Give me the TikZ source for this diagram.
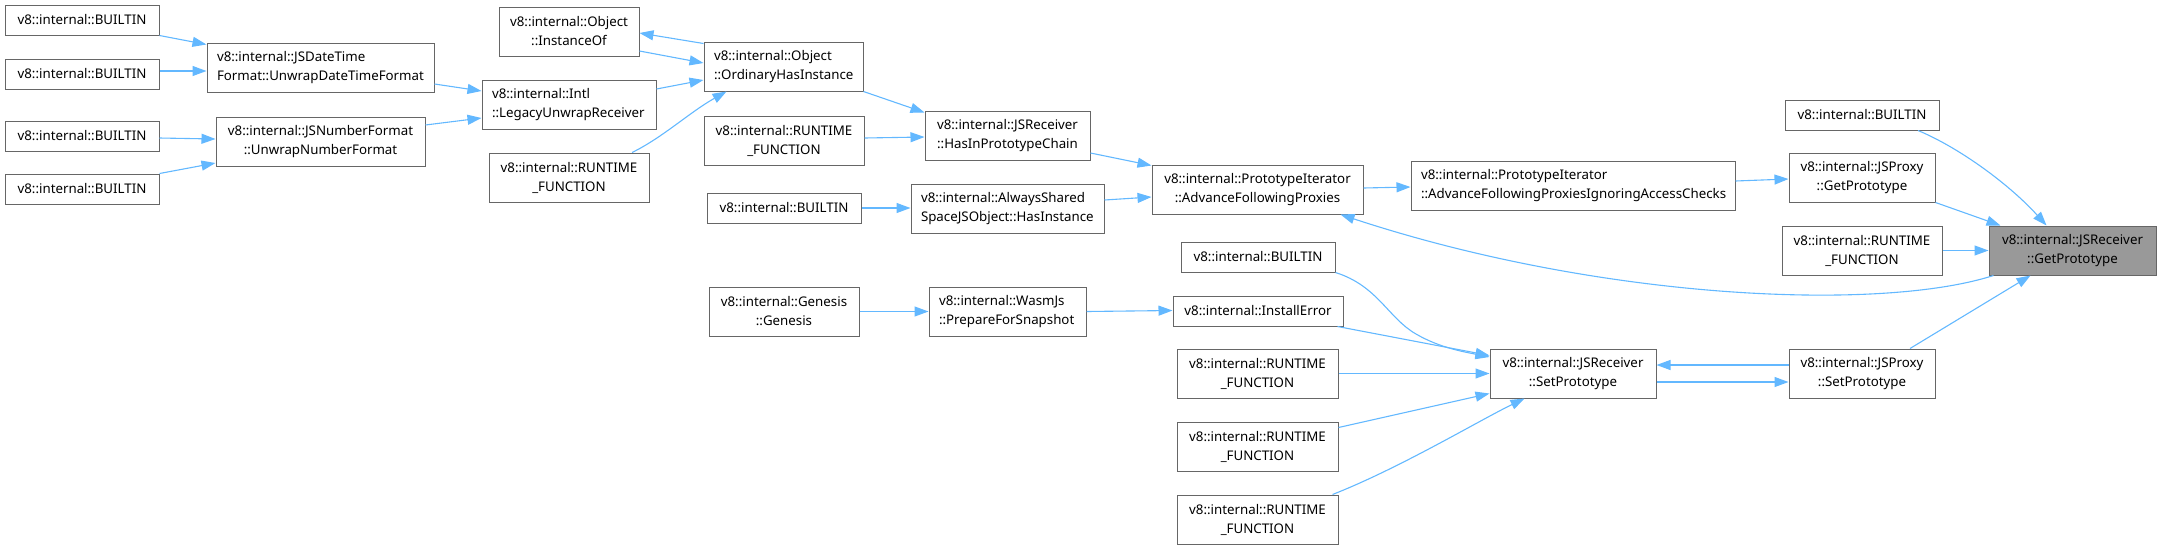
\documentclass[tikz,border=0pt]{standalone}
\usepackage{fontspec}
\newfontfamily\nfont{Noto Sans}
\usetikzlibrary{arrows.meta}
\definecolor{edgecol}{HTML}{63B8FF}
\definecolor{bordercol}{HTML}{666666}
\definecolor{graycol}{HTML}{999999}
\tikzset{
  box/.style={draw=bordercol, fill=white, line width=1pt, inner xsep=10pt, inner ysep=0pt,
    font=\nfont\fontsize{13.3}{19}\selectfont},
  edge/.style={draw=edgecol, line width=1.1pt, -{Triangle[length=14pt,width=10pt]}}
}
\newcommand\bx[7]{\node[box,align=#2,text width=#5pt,minimum height=#6pt] (#1) at (#3,#4) {#7};}
\begin{document}
\begin{tikzpicture}[x=1pt,y=-1pt]
\useasboundingbox (0,0) rectangle (2161,550);
% column 0
\bx{b1}{center}{82}{20}{134}{30}{v8::internal::BUILTIN}
\bx{b2}{center}{82}{74}{134}{30}{v8::internal::BUILTIN}
\bx{b3}{center}{82}{136}{134}{30}{v8::internal::BUILTIN}
\bx{b4}{center}{82}{189}{134}{30}{v8::internal::BUILTIN}
% column 1
\bx{dtf}{left}{320.5}{67.5}{207}{49}{v8::internal::JSDateTime\\Format::UnwrapDateTimeFormat}
\bx{nf}{center}{320.5}{141.5}{189}{49}{v8::internal::JSNumberFormat\\::UnwrapNumberFormat}
% column 2
\bx{inst}{center}{569}{31.5}{120}{49}{v8::internal::Object\\::InstanceOf}
\bx{intl}{left}{569}{104.5}{154}{49}{v8::internal::Intl\\::LegacyUnwrapReceiver}
\bx{rf1}{center}{569}{177.5}{140}{49}{v8::internal::RUNTIME\\\_FUNCTION}
% column 3
\bx{ohi}{left}{783.5}{66.5}{139}{49}{v8::internal::Object\\::OrdinaryHasInstance}
\bx{rf2}{center}{784}{140.5}{140}{49}{v8::internal::RUNTIME\\\_FUNCTION}
\bx{b5}{center}{784}{208}{134}{30}{v8::internal::BUILTIN}
\bx{gen}{center}{784}{311.5}{130}{49}{v8::internal::Genesis\\::Genesis}
% column 4
\bx{hipc}{center}{1007.5}{135.5}{145}{49}{v8::internal::JSReceiver\\::HasInPrototypeChain}
\bx{asj}{left}{1007.5}{208.5}{173}{49}{v8::internal::AlwaysShared\\SpaceJSObject::HasInstance}
\bx{wj}{left}{1007.5}{311.5}{137}{49}{v8::internal::WasmJs\\::PrepareForSnapshot}
% column 5
\bx{pi}{center}{1257.5}{189.5}{191}{49}{v8::internal::PrototypeIterator\\::AdvanceFollowingProxies}
\bx{b7}{center}{1258}{257}{134}{30}{v8::internal::BUILTIN}
\bx{ie}{center}{1258}{311}{150}{30}{v8::internal::InstallError}
\bx{rf4}{center}{1257.5}{373.5}{141}{49}{v8::internal::RUNTIME\\\_FUNCTION}
\bx{rf5}{center}{1257.5}{446.5}{141}{49}{v8::internal::RUNTIME\\\_FUNCTION}
\bx{rf6}{center}{1257.5}{519.5}{141}{49}{v8::internal::RUNTIME\\\_FUNCTION}
% column 6
\bx{pia}{left}{1573}{185.5}{304}{49}{v8::internal::PrototypeIterator\\::AdvanceFollowingProxiesIgnoringAccessChecks}
\bx{sp}{center}{1573}{373.5}{146}{49}{v8::internal::JSReceiver\\::SetPrototype}
% column 7
\bx{b6}{center}{1862}{115}{134}{30}{v8::internal::BUILTIN}
\bx{jpg}{center}{1862}{177.5}{126}{49}{v8::internal::JSProxy\\::GetPrototype}
\bx{rf3}{center}{1862}{250.5}{140}{49}{v8::internal::RUNTIME\\\_FUNCTION}
\bx{jsp}{center}{1862}{373.5}{126}{49}{v8::internal::JSProxy\\::SetPrototype}
% column 8
\node[box,fill=graycol,align=center,text width=147pt,minimum height=49pt] (gp) at (2072.5,250.5) {v8::internal::JSReceiver\\::GetPrototype};
% edges
\draw[edge] (b1.south east) -- ([yshift=-2pt]dtf.north west);
\draw[edge] ([yshift=3pt]b2.east) -- ([yshift=-3.5pt]dtf.west);
\draw[edge] ([yshift=-2pt]b3.east) -- ([yshift=2.5pt]nf.west);
\draw[edge] (b4.north east) -- ([yshift=-21.5pt]nf.west);
\draw[edge] ([yshift=-16.5pt]dtf.east) -- ([yshift=13.5pt]intl.west);
\draw[edge] ([yshift=16.5pt]nf.east) -- ([yshift=-13.5pt]intl.west);
\draw[edge] ([yshift=-2pt]ohi.north west) -- ([yshift=-1.5pt]inst.east);
\draw[edge] ([yshift=-19.5pt]inst.east) -- ([yshift=3.5pt]ohi.west);
\draw[edge] ([yshift=15.5pt]intl.east) -- ([yshift=-13.5pt]ohi.west);
\draw[edge] ([xshift=63pt]rf1.north) .. controls (662,138) and (690,112) .. ([xshift=23pt]ohi.south west);
\draw[edge] (ohi.south east) -- ([yshift=-2pt]hipc.north west);
\draw[edge] ([yshift=2.5pt]rf2.east) -- ([yshift=-1.5pt]hipc.west);
\draw[edge] ([yshift=-17.5pt]hipc.east) -- ([yshift=-1pt]pi.north west);
\draw[edge] (b5.east) -- ([yshift=0.5pt]asj.west);
\draw[edge] ([yshift=8.5pt]asj.east) -- ([yshift=-7.5pt]pi.west);
\draw[edge] (gen.east) -- (wj.west);
\draw[edge] (wj.east) -- ([yshift=0.5pt]ie.west);
\draw[edge] ([yshift=1.5pt]pi.east) -- ([yshift=-1.5pt]pia.west);
\draw[edge] ([yshift=4.5pt]pia.east) -- ([yshift=-1.5pt]jpg.west);
\draw[edge] ([xshift=56pt]b6.south) .. controls (1960,148) and (2010,185) .. ([xshift=58pt]gp.north west);
\draw[edge] (jpg.south east) -- ([xshift=12pt]gp.north west);
\draw[edge] (rf3.east) -- (gp.west);
\draw[edge] ([xshift=48pt]jsp.north) -- ([xshift=42pt]gp.south west);
\draw[edge] ([xshift=5pt]gp.south west) .. controls (1880,312) and (1600,300) .. ([xshift=-23pt]pi.south east);
\draw[edge] (b7.south east) .. controls (1378,286) and (1388,318) .. (1416,334) .. controls (1440,348) and (1465,352) .. ([yshift=16.5pt]sp.west);
\draw[edge] ([xshift=-6pt]ie.south east) -- ([yshift=18pt]sp.west);
\draw[edge] (rf4.east) -- (sp.west);
\draw[edge] ([yshift=-6pt]rf5.north east) -- ([yshift=5pt]sp.south west);
\draw[edge] ([xshift=-6pt]rf6.north east) .. controls (1400,468) and (1480,420) .. ([xshift=35pt]sp.south west);
\draw[edge] ([yshift=-8.5pt]sp.east) -- ([yshift=-8.5pt]jsp.west);
\draw[edge] ([yshift=8.5pt]jsp.west) -- ([yshift=8.5pt]sp.east);
\end{tikzpicture}
\end{document}
